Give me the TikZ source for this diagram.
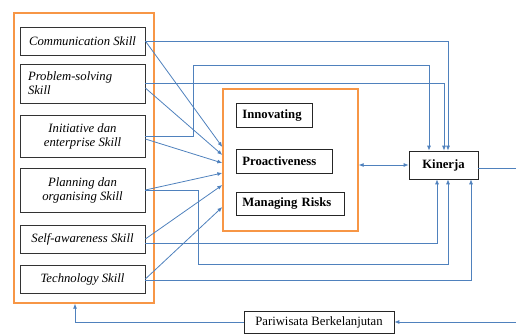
\documentclass[tikz,border=0pt]{standalone}
\usepackage{fontspec}
\setmainfont{Liberation Serif}
\usetikzlibrary{arrows.meta}
\definecolor{linkblue}{RGB}{79,129,189}
\definecolor{frameorange}{RGB}{247,150,70}

\begin{document}
\begin{tikzpicture}[x=1pt,y=-1pt,>={Latex[length=5pt,width=4pt]},
	skill/.style={draw=black!80,line width=0.7pt,minimum width=125pt,font=\itshape\fontsize{12.7}{14}\selectfont,align=center,inner sep=2pt},
	dim/.style={draw=black!85,line width=0.7pt,font=\bfseries\fontsize{12.7}{14}\selectfont,inner xsep=6pt,inner ysep=3pt,anchor=west,align=left,minimum height=24pt},
	frame/.style={draw=frameorange,line width=1.3pt},
	link/.style={draw=linkblue,line width=0.8pt}]
		\useasboundingbox (0,0) rectangle (516,334);
		% outer frame and skill boxes
		\node[frame,minimum width=140pt,minimum height=290pt] (skills) at (84,158) {};
		\node[skill,minimum height=28pt] (comm) at (82.5,41) {Communication Skill};
		\node[skill,minimum height=39pt,align=left,text width=109pt] (prob) at (82.5,83.5) {Problem-solving\\Skill};
		\node[skill,minimum height=42pt] (init) at (82.5,136) {Initiative dan\\enterprise Skill};
		\node[skill,minimum height=44pt] (plan) at (82.5,190) {Planning dan\\organising Skill};
		\node[skill,minimum height=28pt] (self) at (82.5,239) {Self-awareness Skill};
		\node[skill,minimum height=28pt] (tech) at (82.5,279) {Technology Skill};
		% middle frame
		\node[frame,minimum width=135pt,minimum height=142pt] (mid) at (290.5,160) {};
		\node[dim,text width=64pt] (innov) at (236,115) {Innovating};
		\node[dim,text width=84pt] (proact) at (236,161) {Proactiveness};
		\node[dim,text width=96pt,minimum height=23pt] (risk) at (236,203.5) {Managing Risks};
		\node[draw=black!85,line width=0.7pt,minimum width=69pt,minimum height=28pt,font=\bfseries\fontsize{12.7}{14}\selectfont] (kin) at (443.5,165) {Kinerja};
		\node[draw=black!85,line width=0.7pt,minimum width=150pt,minimum height=22pt,font=\fontsize{12.7}{14}\selectfont] (pari) at (319,322) {Pariwisata Berkelanjutan};
		\coordinate (bendA) at (193,65);
		\coordinate (bendB) at (198,264);
		\coordinate (outR) at (516,168);
		\coordinate (inR) at (516,322);
		% skills to the middle frame
		\draw[link,->] (comm.east) -- ([yshift=13pt]mid.west);
		\draw[link,->] ([yshift=-4.5pt]prob.east) -- ([yshift=5pt]mid.west);
		\draw[link,->] ([yshift=-3pt]init.east) -- ([yshift=-3pt]mid.west);
		\draw[link,->] (plan.east) -- ([yshift=-13pt]mid.west);
		\draw[link,->] (self.east) -- ([yshift=-25pt]mid.west);
		\draw[link,->] (tech.east) -- ([yshift=-47pt]mid.west);
		% skills to Kinerja
		\draw[link,->] (comm.east) -| ([xshift=4.5pt]kin.north);
		\draw[link,->] (prob.east) -| ([xshift=0.5pt]kin.north);
		\draw[link,->] (init.east) -| (bendA) -| ([xshift=-14.5pt]kin.north);
		\draw[link,->] (plan.east) -| (bendB) -| ([xshift=4.5pt]kin.south);
		\draw[link,->] ([yshift=-4pt]self.east) -| ([xshift=-6.5pt]kin.south);
		\draw[link,->] ([yshift=-1pt]tech.east) -| ([xshift=27.5pt]kin.south);
		% middle frame and Kinerja
		\draw[link,<->] ([yshift=-5pt]mid.east) -- (kin.west);
		\draw[link] ([yshift=-3pt]kin.east) -- (outR);
		\draw[link,->] (inR) -- (pari.east);
		\draw[link,->] (pari.west) -| ([xshift=-9pt]skills.south);
\end{tikzpicture}
\end{document}
